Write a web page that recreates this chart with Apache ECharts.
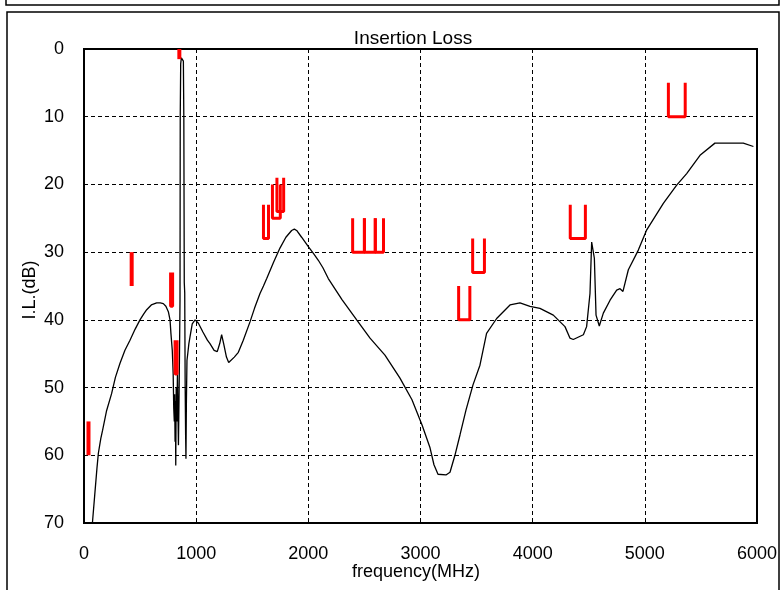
<!DOCTYPE html>
<html>
<head>
<meta charset="utf-8">
<script src="https://cdn.jsdelivr.net/npm/echarts@6/dist/echarts.min.js"></script>
<style>
html, body { margin: 0; padding: 0; background: #fff; }
#main { width: 782px; height: 590px; }
</style>
</head>
<body>
<div id="main"></div>
<script>
// measured insertion loss curve (MHz, dB)
var freq = [75, 95, 115, 128, 150, 166, 200, 246, 280, 321, 365, 410, 455, 499, 530, 559, 600, 648, 680, 707,
	730, 752, 767, 775, 787, 795, 800, 805, 808, 812, 815, 818, 822, 828, 833, 838, 842, 847, 852, 856,
	858, 862, 868, 875, 880, 886, 890, 894, 898, 902, 906, 909, 913, 918, 925, 935, 945, 965, 990, 1020,
	1060, 1100, 1123, 1160, 1188, 1210, 1227, 1245, 1270, 1290, 1307, 1340, 1376, 1420, 1480, 1520, 1569, 1600, 1629, 1690,
	1747, 1800, 1851, 1875, 1896, 1940, 2000, 2050, 2089, 2130, 2178, 2193, 2300, 2431, 2550, 2683, 2817, 2924, 3013, 3085,
	3120, 3156, 3227, 3263, 3307, 3352, 3406, 3468, 3530, 3589, 3679, 3798, 3887, 3976, 4065, 4184, 4288, 4333, 4362, 4452,
	4481, 4511, 4526, 4550, 4565, 4594, 4630, 4690, 4749, 4779, 4805, 4853, 4942, 5017, 5165, 5284, 5373, 5492, 5625, 5878, 5968];
var loss = [70, 66, 62, 59.7, 57.5, 56.3, 53.5, 50.9, 48.5, 46.4, 44.5, 43, 41.4, 40, 39.2, 38.5, 37.8, 37.5, 37.5, 37.6,
	38, 38.8, 40, 42, 44.5, 48, 53, 55, 51, 58, 52, 61.5, 50, 55, 48, 54, 58.5, 52, 44, 37,
	10, 2.2, 1.3, 1.5, 1.1, 1.8, 10, 34.5, 36, 50, 57, 60.5, 52, 46, 45, 43.5, 42.5, 40.6, 40, 40.5,
	41.8, 43, 43.5, 44.5, 44.7, 43.5, 42.2, 43.5, 45.5, 46.3, 46.1, 45.5, 44.8, 43, 40.3, 38.3, 36.1, 35, 33.9, 31.5,
	29.4, 27.8, 26.8, 26.6, 26.8, 27.8, 29.2, 30.3, 31.2, 32.3, 33.9, 34.1, 37, 40, 42.7, 45.2, 48.6, 51.8, 55.5, 58.9,
	61.4, 62.8, 62.9, 62.5, 60, 57, 53.3, 49.6, 46.7, 42, 39.8, 37.8, 37.5, 38, 38.3, 39.3, 41, 42.7, 42.9, 42.2,
	41, 36.1, 28.5, 30.9, 39.3, 40.9, 39, 37.1, 35.6, 35.4, 35.8, 32.6, 29.7, 26.7, 22.8, 20.1, 18.4, 15.7, 13.9, 13.9, 14.4];

// spec masks drawn as "U" shapes: left / right frequency, top / bottom dB
var maskLeft   = [1600, 1680, 1720, 2395, 2500, 2597, 3340, 3465, 4335, 5210, 772, 812];
var maskRight  = [1645, 1750, 1780, 2500, 2597, 2670, 3440, 3570, 4470, 5360, 790, 830];
var maskTop    = [23, 20, 19, 25, 25, 25, 35, 28, 23, 5, 33, 43];
var maskBottom = [28, 25, 24, 30, 30, 30, 40, 33, 28, 10, 38, 48];

// single vertical spec bars
var barFreq   = [40, 425, 850];
var barTop    = [55, 30, 0];
var barBottom = [60, 35, 1.5];

var yTicks = [0, 10, 20, 30, 40, 50, 60, 70];
var xTicks = [0, 1000, 2000, 3000, 4000, 5000, 6000];

var series = [];
var curve = [];
for (var i = 0; i < freq.length; i++) {
	curve.push([freq[i], loss[i]]);
}
series.push({
	type: 'line', data: curve, showSymbol: false, z: 3,
	lineStyle: { color: '#000', width: 1.3 }
});
for (var i = 0; i < maskLeft.length; i++) {
	series.push({
		type: 'line', showSymbol: false, z: 4,
		data: [[maskLeft[i], maskTop[i]], [maskLeft[i], maskBottom[i]], [maskRight[i], maskBottom[i]], [maskRight[i], maskTop[i]]],
		lineStyle: { color: '#ff0000', width: 3 }
	});
}
for (var i = 0; i < barFreq.length; i++) {
	series.push({
		type: 'line', showSymbol: false, z: 4,
		data: [[barFreq[i], barTop[i]], [barFreq[i], barBottom[i]]],
		lineStyle: { color: '#ff0000', width: 4 }
	});
}

var font = 'Liberation Sans, Arial, sans-serif';
var option = {
	animation: false,
	grid: { left: 84, right: 25, top: 49, bottom: 67, show: true, borderColor: '#000', borderWidth: 2 },
	title: {
		text: 'Insertion Loss', left: 408, top: 24, textAlign: 'center',
		textStyle: { fontFamily: font, fontSize: 19, fontWeight: 'normal', color: '#000' }
	},
	xAxis: {
		type: 'value', min: xTicks[0], max: xTicks[xTicks.length - 1], interval: 1000,
		axisLine: { show: false }, axisTick: { show: false },
		axisLabel: { color: '#000', fontFamily: font, fontSize: 18, margin: 22, formatter: function (v) { return String(v); } },
		splitLine: { show: true, lineStyle: { color: '#000', type: [4, 3], width: 1 } }
	},
	yAxis: {
		type: 'value', inverse: true, min: yTicks[0], max: yTicks[yTicks.length - 1], interval: 10,
		axisLine: { show: false }, axisTick: { show: false },
		axisLabel: { color: '#000', fontFamily: font, fontSize: 18, margin: 20 },
		splitLine: { show: true, lineStyle: { color: '#000', type: [4, 3], width: 1 } }
	},
	graphic: [
		{ type: 'rect', shape: { x: 6, y: -10, width: 773, height: 15 }, style: { fill: 'none', stroke: '#000', lineWidth: 1.5 } },
		{ type: 'rect', shape: { x: 7, y: 12, width: 772, height: 600 }, style: { fill: 'none', stroke: '#000', lineWidth: 1.5 } },
		{ type: 'text', x: 416, y: 572, style: { text: 'frequency(MHz)', fill: '#000', font: '18px ' + font, textAlign: 'center', textVerticalAlign: 'middle' } },
		{ type: 'text', x: 30, y: 290, rotation: Math.PI / 2, style: { text: 'I.L.(dB)', fill: '#000', font: '18px ' + font, textAlign: 'center', textVerticalAlign: 'middle' } }
	],
	series: series
};
var myChart = echarts.init(document.getElementById('main'));
myChart.setOption(option);
</script>
</body>
</html>
